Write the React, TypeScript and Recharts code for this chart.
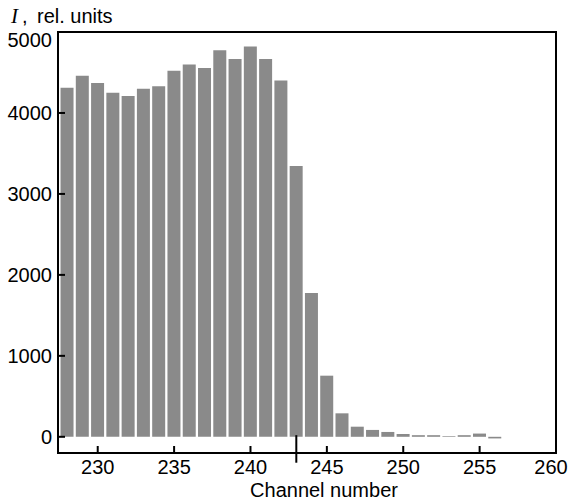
import {
  Bar,
  BarChart,
  ReferenceArea,
  ReferenceLine,
  XAxis,
  YAxis,
} from "recharts";

const channels = [
  228, 229, 230, 231, 232, 233, 234, 235, 236, 237, 238, 239, 240, 241, 242,
  243, 244, 245, 246, 247, 248, 249, 250, 251, 252, 253, 254, 255, 256,
];
const intensity = [
  4310, 4460, 4370, 4250, 4210, 4300, 4330, 4520, 4600, 4555, 4775, 4665, 4820,
  4665, 4400, 3345, 1775, 755, 290, 125, 85, 60, 35, 20, 20, 8, 20, 40, -20,
];
const xTicks = [230, 235, 240, 245, 250, 255, 260];
const yTicks = [0, 1000, 2000, 3000, 4000, 5000];
const xDomain: [number, number] = [227.4, 260];
const yDomain: [number, number] = [-200, 5000];
const markerChannel = 243;

const data = channels.map((c, i) => ({ channel: c, value: intensity[i] }));

const FONT = "'Liberation Sans', Arial, sans-serif";

function YTick(props: any) {
  const { x, y, payload } = props;
  // the top label sits a bit below its tick in the original
  const shift = payload.value === 5000 ? 8 : 0;
  return (
    <text
      x={x}
      y={y + shift}
      dy="0.355em"
      textAnchor="end"
      fontSize={20}
      fontFamily={FONT}
      fill="#000"
    >
      {payload.value}
    </text>
  );
}

function XTick(props: any) {
  const { x, y, payload } = props;
  // last label is pulled in so it stays on the page
  const shift = payload.value === 260 ? -5 : 0;
  return (
    <text
      x={x + shift}
      y={y}
      dy="0.71em"
      textAnchor="middle"
      fontSize={20}
      fontFamily={FONT}
      fill="#000"
    >
      {payload.value}
    </text>
  );
}

export default function App() {
  return (
    <div style={{ position: "absolute", left: 0, top: 0, width: 570, height: 502, background: "#fff" }}>
      <BarChart
        width={570}
        height={502}
        data={data}
        margin={{ top: 32, right: 14, left: 8, bottom: 19 }}
      >
        <XAxis
          type="number"
          dataKey="channel"
          domain={xDomain}
          ticks={xTicks}
          allowDataOverflow
          height={30}
          axisLine={false}
          tickSize={-7}
          tickMargin={14}
          tickLine={{ stroke: "#000", strokeWidth: 2 }}
          tick={(p: any) => <XTick {...p} />}
        />
        <YAxis
          type="number"
          domain={yDomain}
          ticks={yTicks}
          allowDataOverflow
          width={50}
          axisLine={false}
          tickSize={-7}
          tickMargin={13}
          tickLine={{ stroke: "#000", strokeWidth: 2 }}
          tick={(p: any) => <YTick {...p} />}
        />
        <Bar dataKey="value" fill="#8a8a8a" barSize={13} isAnimationActive={false} />
        <ReferenceArea
          x1={xDomain[0]}
          x2={xDomain[1]}
          y1={yDomain[0]}
          y2={yDomain[1]}
          fill="none"
          fillOpacity={0}
          stroke="#000"
          strokeWidth={2}
          ifOverflow="visible"
        />
        <ReferenceLine
          segment={[
            { x: markerChannel, y: 20 },
            { x: markerChannel, y: -320 },
          ]}
          stroke="#000"
          strokeWidth={2}
          ifOverflow="visible"
        />
      </BarChart>
      <svg
        width={570}
        height={502}
        style={{ position: "absolute", left: 0, top: 0, pointerEvents: "none" }}
      >
        <text x={11} y={23} fontSize={21} fontStyle="italic" fontFamily="'Liberation Serif', 'Times New Roman', serif" fill="#000">
          I
        </text>
        <text x={22} y={23} fontSize={20} fontFamily={FONT} fill="#000">
          ,
        </text>
        <text x={37} y={23} fontSize={20} fontFamily={FONT} fill="#000">
          rel. units
        </text>
        <text x={324} y={497} fontSize={20} textAnchor="middle" fontFamily={FONT} fill="#000">
          Channel number
        </text>
      </svg>
    </div>
  );
}
